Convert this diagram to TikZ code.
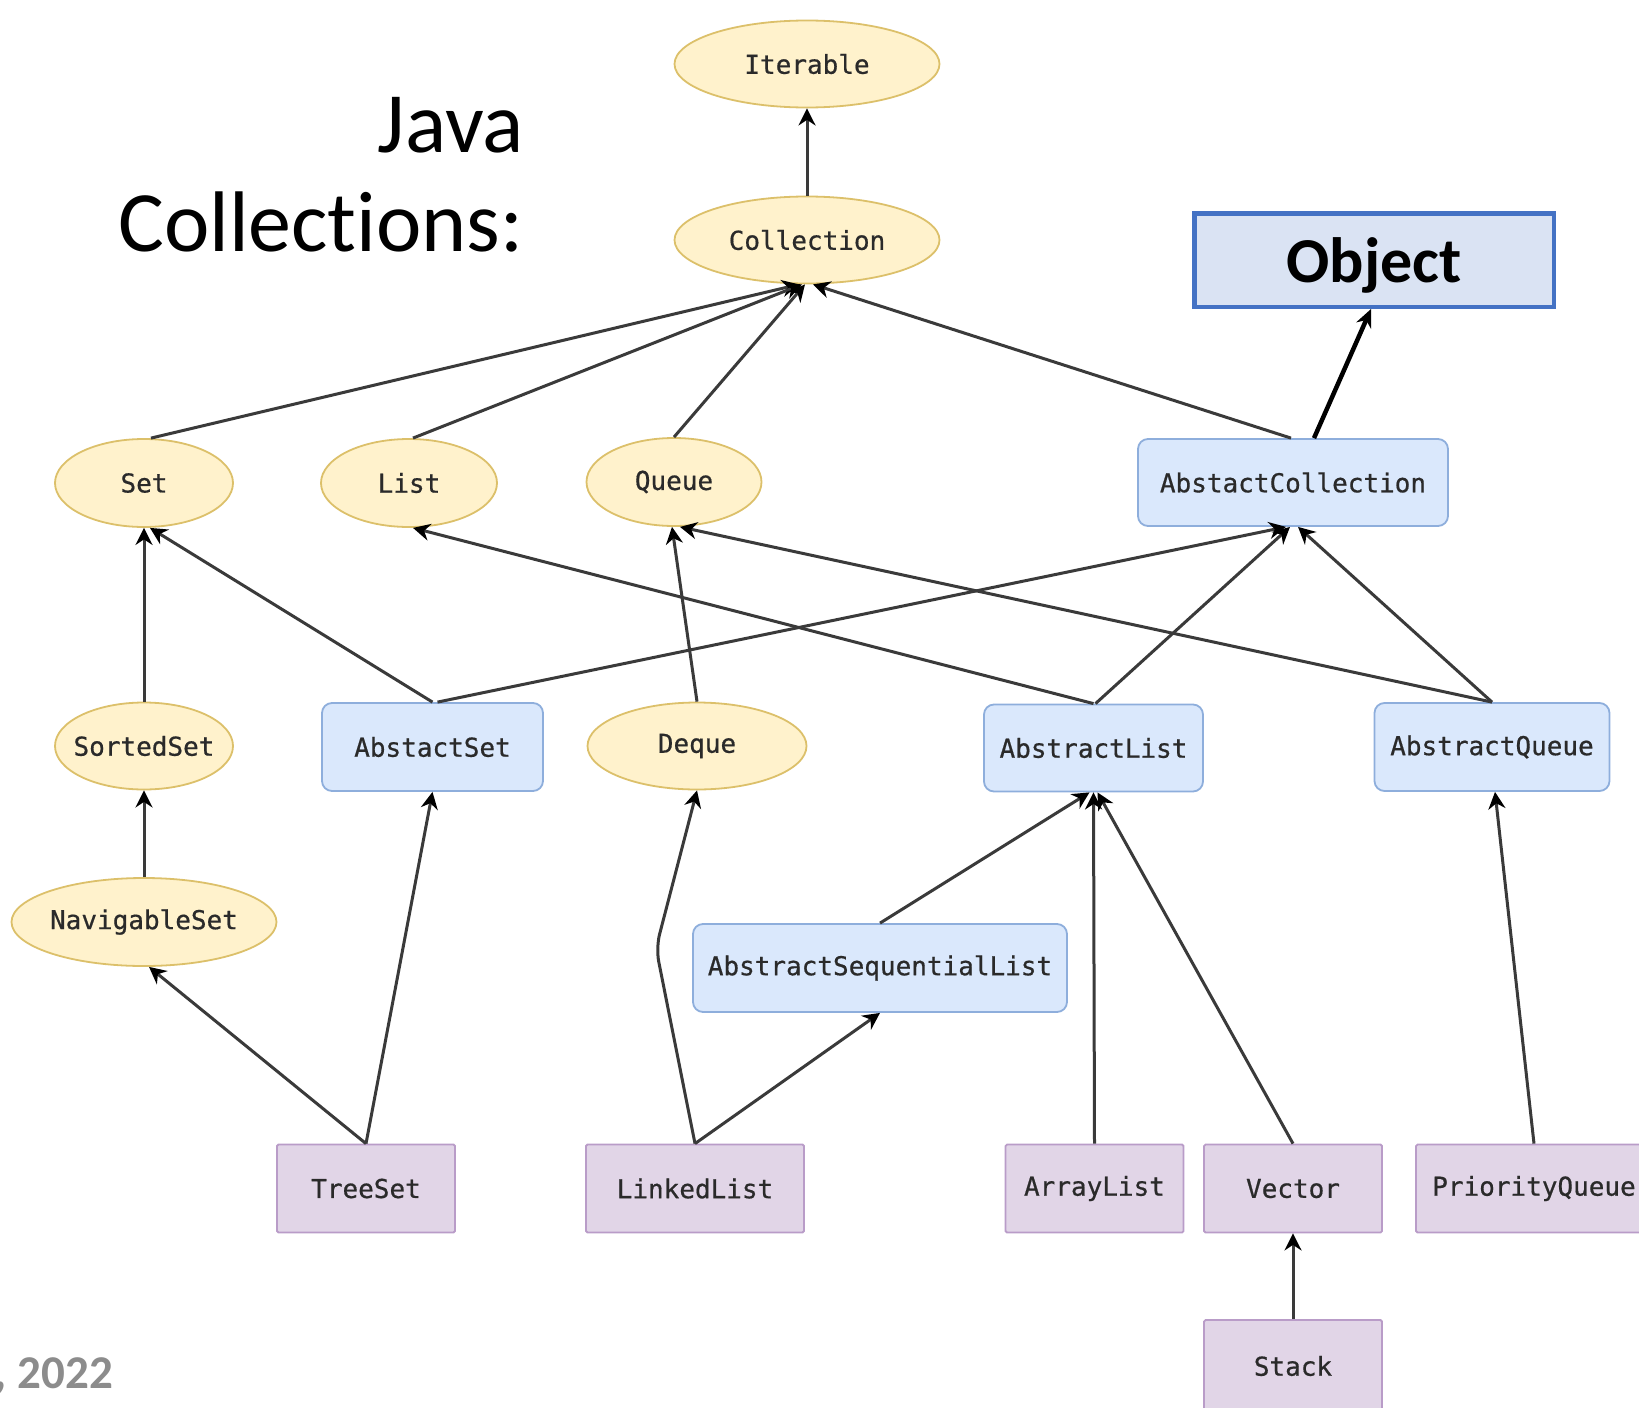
\documentclass[tikz,border=0pt]{standalone}
\usepackage{fontspec}
\setmainfont{Carlito}[Ligatures=NoCommon]
\newfontfamily\codefont{DejaVu Sans Mono}[FakeBold=0.6]
\usetikzlibrary{arrows.meta,shapes.geometric}
\definecolor{ifill}{HTML}{FFF2CC}
\definecolor{iline}{HTML}{DCC06A}
\definecolor{afill}{HTML}{DAE8FC}
\definecolor{aline}{HTML}{8EAEDC}
\definecolor{cfill}{HTML}{E1D5E7}
\definecolor{cline}{HTML}{B99CC8}
\definecolor{objfill}{HTML}{DAE3F3}
\definecolor{objline}{HTML}{4472C4}
\definecolor{edgecol}{HTML}{3A3A3A}
\definecolor{txt}{HTML}{2A2A2A}
\definecolor{yeargray}{HTML}{8C8C8C}

\begin{document}
\begin{tikzpicture}[x=1pt,y=-1pt,
  lbl/.style={font=\codefont\fontsize{26}{30}\selectfont, text=txt, inner sep=0pt},
  iface/.style={lbl, ellipse, draw=iline, fill=ifill, line width=1.8pt},
  absbox/.style={lbl, rectangle, rounded corners=10pt, draw=aline, fill=afill, line width=1.8pt},
  impl/.style={lbl, rectangle, rounded corners=1.5pt, draw=cline, fill=cfill, line width=1.8pt},
  inh/.style={draw=edgecol, line width=3pt, -{Stealth[length=17pt,width=17pt,color=black]}},
  objarrow/.style={draw=black, line width=4.5pt, -{Stealth[length=18pt,width=16pt]}},
]
\useasboundingbox (0,0) rectangle (1639,1408);

% title
\node[font=\fontsize{86}{90}\selectfont, anchor=base east, inner sep=0pt] (ttlA) at (524,152) {Java};
\node[font=\fontsize{86}{90}\selectfont, anchor=base east, inner sep=0pt] (ttlB) at (524,251) {Collections:};
\node[font=\bfseries\fontsize{47}{50}\selectfont, text=yeargray, anchor=base east, inner sep=0pt] (year) at (113,1388) {, 2022};

% interfaces
\node[iface, minimum width=265pt, minimum height=87pt] (iter) at (807,64) {Iterable};
\node[iface, minimum width=265pt, minimum height=87pt] (coll) at (807,240) {Collection};
\node[iface, minimum width=178pt, minimum height=88pt] (set) at (144,483) {Set};
\node[iface, minimum width=176pt, minimum height=88pt] (list) at (409,483) {List};
\node[iface, minimum width=175pt, minimum height=88pt] (queue) at (674,482) {Queue};
\node[iface, minimum width=178pt, minimum height=87pt, inner xsep=-10pt] (sset) at (144,746) {SortedSet};
\node[iface, minimum width=219pt, minimum height=87pt] (deque) at (697,746) {Deque};
\node[iface, minimum width=265pt, minimum height=88pt, inner xsep=-2pt] (nset) at (144,922) {NavigableSet};

% abstract classes
\node[absbox, minimum width=310pt, minimum height=87pt] (acoll) at (1293,482.5) {AbstactCollection};
\node[absbox, minimum width=221pt, minimum height=88pt] (aset) at (432.5,747) {AbstactSet};
\node[absbox, minimum width=219pt, minimum height=87pt] (alist) at (1093.5,748) {AbstractList};
\node[absbox, minimum width=235pt, minimum height=88pt] (aqueue) at (1492,747) {AbstractQueue};
\node[absbox, minimum width=374pt, minimum height=88pt] (aslist) at (880,968) {AbstractSequentialList};

% concrete classes
\node[impl, minimum width=178pt, minimum height=88pt] (tset) at (366,1188.5) {TreeSet};
\node[impl, minimum width=218pt, minimum height=88pt] (llist) at (695,1188.5) {LinkedList};
\node[impl, minimum width=178pt, minimum height=88pt] (arr) at (1094.5,1188.5) {ArrayList};
\node[impl, minimum width=178pt, minimum height=88pt] (vec) at (1293,1188.5) {Vector};
\node[impl, minimum width=236pt, minimum height=88pt] (pq) at (1534,1188.5) {PriorityQueue};
\node[impl, minimum width=178pt, minimum height=92pt] (stack) at (1293,1366) {Stack};

% Object
\node[rectangle, draw=objline, fill=objfill, line width=4.5pt, minimum width=359.5pt, minimum height=93.5pt,
      inner sep=0pt, text depth=0pt, font=\bfseries\fontsize{64}{70}\selectfont] (obj) at (1374,260) {Object};

% inheritance edges
\draw[inh] (coll.north) -- (iter.south);
\draw[inh] ([xshift=7pt]set.north) -- ([xshift=-8pt]coll.south);
\draw[inh] ([xshift=4pt]list.north) -- ([xshift=-5pt]coll.south);
\draw[inh] (queue.north) -- ([xshift=-2pt]coll.south);
\draw[inh] ([xshift=-2pt]acoll.north) -- ([xshift=6pt]coll.south);
\draw[objarrow] ([xshift=21pt]acoll.north) -- ([xshift=-3pt]obj.south);

\draw[inh] (sset.north) -- (set.south);
\draw[inh] (aset.north) -- ([xshift=6pt]set.south);
\draw[inh] ([xshift=5pt]aset.north) -- ([xshift=-7pt]acoll.south);
\draw[inh] (deque.north) -- ([xshift=-2pt]queue.south);
\draw[inh] (alist.north) -- ([xshift=4pt]list.south);
\draw[inh] ([xshift=2pt]alist.north) -- ([xshift=-3pt]acoll.south);
\draw[inh] (aqueue.north) -- ([xshift=6pt]queue.south);
\draw[inh] (aqueue.north) -- ([xshift=5pt]acoll.south);

\draw[inh] (nset.north) -- (sset.south);
\draw[inh] (tset.north) -- ([xshift=5pt]nset.south);
\draw[inh] (tset.north) -- (aset.south);
\draw[inh, rounded corners=14pt] (llist.north) -- (656,948) -- (deque.south);
\draw[inh] (llist.north) -- (aslist.south);
\draw[inh] (aslist.north) -- ([xshift=-4pt]alist.south);
\draw[inh] (arr.north) -- (alist.south);
\draw[inh] (vec.north) -- ([xshift=4pt]alist.south);
\draw[inh] (pq.north) -- ([xshift=3pt]aqueue.south);
\draw[inh] (stack.north) -- (vec.south);
\end{tikzpicture}
\end{document}
